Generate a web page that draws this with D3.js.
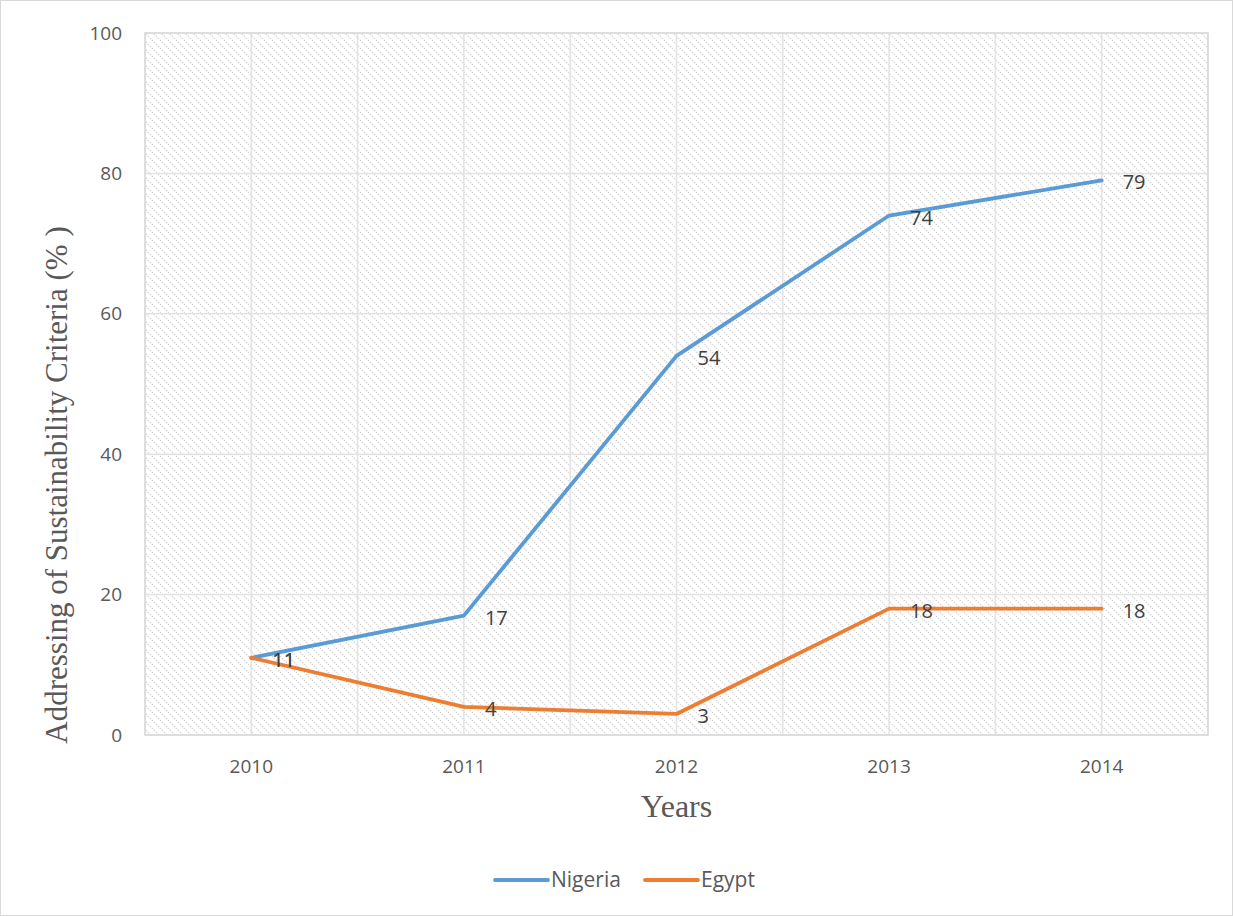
<!DOCTYPE html>
<html>
<head>
<meta charset="utf-8">
<script src="https://cdn.jsdelivr.net/npm/d3@7"></script>
<style>
  html, body { margin: 0; padding: 0; background: #fff; }
  svg { display: block; }
</style>
</head>
<body>
<svg id="chart" width="1233" height="916"></svg>
<script>
// Share of sustainability criteria addressed, by year
const years = ["2010", "2011", "2012", "2013", "2014"];
const nigeria = [11, 17, 54, 74, 79];
const egypt = [11, 4, 3, 18, 18];
const yTicks = [0, 20, 40, 60, 80, 100];

const series = [
  { name: "Nigeria", values: nigeria, color: "#5b9bd5" },
  { name: "Egypt", values: egypt, color: "#ed7d31" }
];

const svg = d3.select("#chart");
const W = 1233, H = 916;
const plot = { left: 145, right: 1208, top: 33, bottom: 735 };

// outer chart frame
svg.append("rect")
  .attr("x", 0.5).attr("y", 0.5)
  .attr("width", W - 1).attr("height", H - 1)
  .attr("fill", "#fff").attr("stroke", "#d9d9d9");

// diagonal hatch fill for the plot area
const defs = svg.append("defs");
const pat = defs.append("pattern")
  .attr("id", "hatch")
  .attr("patternUnits", "userSpaceOnUse")
  .attr("width", 8).attr("height", 8);
pat.append("rect").attr("width", 8).attr("height", 8).attr("fill", "#fff");
pat.append("path")
  .attr("d", "M-2,-2 L10,10 M-2,6 L2,10 M6,-2 L10,2")
  .attr("stroke", "#d9d9d9")
  .attr("stroke-width", 1.5)
  .attr("stroke-dasharray", "1.5,1.3");

const x = d3.scaleBand().domain(years).range([plot.left, plot.right]);
const cx = d => x(d) + x.bandwidth() / 2;
const y = d3.scaleLinear().domain([0, 100]).range([plot.bottom, plot.top]);

svg.append("rect")
  .attr("x", plot.left).attr("y", plot.top)
  .attr("width", plot.right - plot.left).attr("height", plot.bottom - plot.top)
  .attr("fill", "url(#hatch)");

// vertical grid: at band edges and band centres
const vLines = [];
years.forEach(yr => { vLines.push(x(yr)); vLines.push(cx(yr)); });
vLines.push(plot.right);
svg.append("g").selectAll("line").data(vLines).join("line")
  .attr("x1", d => d).attr("x2", d => d)
  .attr("y1", plot.top).attr("y2", plot.bottom)
  .attr("stroke", "#e3e3e3").attr("stroke-width", 1.5);

// horizontal grid
svg.append("g").selectAll("line").data(yTicks).join("line")
  .attr("x1", plot.left).attr("x2", plot.right)
  .attr("y1", d => y(d)).attr("y2", d => y(d))
  .attr("stroke", "#e3e3e3").attr("stroke-width", 1.5);

// plot border
svg.append("rect")
  .attr("x", plot.left).attr("y", plot.top)
  .attr("width", plot.right - plot.left).attr("height", plot.bottom - plot.top)
  .attr("fill", "none").attr("stroke", "#d9d9d9").attr("stroke-width", 1.5);

const labelFont = "'Open Sans', 'Noto Sans', sans-serif";

// y axis tick labels
const yAxis = d3.axisLeft(y).tickValues(yTicks).tickSize(0).tickPadding(23);
const gy = svg.append("g").attr("transform", `translate(${plot.left},0)`).call(yAxis);
gy.select(".domain").remove();
gy.selectAll("text")
  .attr("font-family", labelFont).attr("font-size", 19).attr("fill", "#595959");

// x axis tick labels
const xAxis = d3.axisBottom(x).tickSize(0).tickPadding(25);
const gx = svg.append("g").attr("transform", `translate(0,${plot.bottom})`).call(xAxis);
gx.select(".domain").remove();
gx.selectAll("text")
  .attr("font-family", labelFont).attr("font-size", 19).attr("fill", "#595959");

// axis titles
svg.append("text")
  .attr("transform", `translate(67,${(plot.top + plot.bottom) / 2 + 101}) rotate(-90)`)
  .attr("text-anchor", "middle")
  .attr("font-family", "'Liberation Serif', 'Times New Roman', serif")
  .attr("font-size", 31).attr("fill", "#595959")
  .text("Addressing of Sustainability Criteria (% )");

svg.append("text")
  .attr("x", (plot.left + plot.right) / 2).attr("y", 817)
  .attr("text-anchor", "middle")
  .attr("font-family", "'Liberation Serif', 'Times New Roman', serif")
  .attr("font-size", 32).attr("fill", "#595959")
  .text("Years");

// series lines
const line = d3.line().x((d, i) => cx(years[i])).y(d => y(d));
series.forEach(s => {
  svg.append("path")
    .datum(s.values)
    .attr("d", line)
    .attr("fill", "none")
    .attr("stroke", s.color)
    .attr("stroke-width", 3.8)
    .attr("stroke-linejoin", "round")
    .attr("stroke-linecap", "round");
});

// data labels, placed to the right of each point
series.forEach(s => {
  svg.append("g").selectAll("text").data(s.values).join("text")
    .attr("x", (d, i) => cx(years[i]) + 21)
    .attr("y", d => y(d) + 9)
    .attr("font-family", labelFont).attr("font-size", 20).attr("fill", "#404040")
    .text(d => d);
});

// legend
const legend = svg.append("g").attr("transform", "translate(0,880)");
const legendItems = [
  { name: "Nigeria", color: "#5b9bd5", x: 495 },
  { name: "Egypt", color: "#ed7d31", x: 645 }
];
legendItems.forEach(it => {
  legend.append("line")
    .attr("x1", it.x).attr("x2", it.x + 53)
    .attr("y1", 0).attr("y2", 0)
    .attr("stroke", it.color).attr("stroke-width", 3.8)
    .attr("stroke-linecap", "round");
  legend.append("text")
    .attr("x", it.x + 56).attr("y", 7)
    .attr("font-family", labelFont).attr("font-size", 21).attr("fill", "#595959")
    .text(it.name);
});
</script>
</body>
</html>
